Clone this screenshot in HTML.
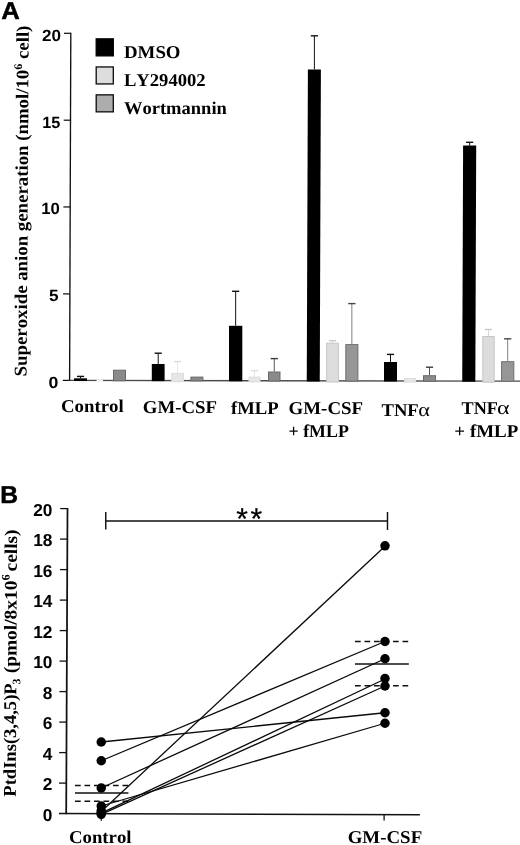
<!DOCTYPE html>
<html lang="en"><head><meta charset="utf-8"><title>Figure</title>
<style>
html,body{margin:0;padding:0;background:#fff;}
body{width:520px;height:845px;overflow:hidden;}
svg{display:block;}
text{font-kerning:none;text-rendering:geometricPrecision;}
.ser{font-family:"Liberation Serif","Times New Roman",serif;font-weight:bold;fill:#000;}
.san{font-family:"Liberation Sans",Arial,sans-serif;font-weight:bold;fill:#000;}
.sym{font-family:"Liberation Serif","Times New Roman",serif;font-weight:normal;fill:#000;}
</style></head><body>
<svg width="520" height="845" viewBox="0 0 520 845">
<rect width="520" height="845" fill="#fff"/>
<g id="panelA">
<text class="san" font-size="24.3" stroke="#000" stroke-width="0.5" stroke-linejoin="round" transform="translate(1.16,18.7) scale(1.0563,1)">A</text>
<line x1="70.8" y1="32.7" x2="69.6" y2="381" stroke="#111" stroke-width="1.35"/>
<line x1="64" y1="33.3" x2="70.8" y2="33.3" stroke="#111" stroke-width="1.25"/>
<line x1="63.7" y1="120.2" x2="70.5" y2="120.2" stroke="#111" stroke-width="1.25"/>
<line x1="63.4" y1="206.95" x2="70.2" y2="206.95" stroke="#111" stroke-width="1.25"/>
<line x1="63.1" y1="293.9" x2="69.9" y2="293.9" stroke="#111" stroke-width="1.25"/>
<line x1="62.8" y1="380.4" x2="69.6" y2="380.4" stroke="#111" stroke-width="1.25"/>
<text class="san" font-size="16.2" transform="translate(41.97,40.5) scale(1.0567,1)">20</text>
<text class="san" font-size="16.2" transform="translate(42.19,128.1) scale(1.0061,1)">15</text>
<text class="san" font-size="16.2" transform="translate(41.17,213.7) scale(1.0338,1)">10</text>
<text class="san" font-size="16.2" transform="translate(49.07,300.8) scale(1.0625,1)">5</text>
<text class="san" font-size="16.2" transform="translate(48.38,388.1) scale(1.0933,1)">0</text>
<text class="ser" font-size="18" transform="translate(26.6,376.44) rotate(-89.65) scale(1.0449,1)"><tspan word-spacing="0">Superoxide anion generation (nmol/10<tspan font-size="11.5" dy="-6.5">6</tspan><tspan dy="6.5"> cell)</tspan></tspan></text>
<rect x="96.2" y="38.85" width="17.1" height="17" fill="#000" stroke="#000" stroke-width="1.3"/>
<text class="ser" font-size="18" transform="translate(123.94,58) scale(1.0483,1)">DMSO</text>
<rect x="96.2" y="66.95" width="17.1" height="17" fill="#dddddd" stroke="#0a0a0a" stroke-width="1.3"/>
<text class="ser" font-size="18" transform="translate(123.94,85.9) scale(1.0346,1)">LY294002</text>
<rect x="96.2" y="94.85" width="17.1" height="17" fill="#adadad" stroke="#0a0a0a" stroke-width="1.3"/>
<text class="ser" font-size="18" transform="translate(123.94,113.8) scale(1.0291,1)">Wortmannin</text>
<line x1="69.6" y1="380.4" x2="520" y2="381.09999999999997" stroke="#4a4a4a" stroke-width="1.4"/>
<line x1="80.5" y1="376.4" x2="80.5" y2="378.3" stroke="#111" stroke-width="1"/>
<line x1="76.9" y1="376.4" x2="84.1" y2="376.4" stroke="#111" stroke-width="1.4"/>
<rect x="74" y="378.3" width="13" height="2.72" fill="#000"/>
<rect x="96.5" y="379.6" width="6.5" height="2.05" fill="#f4f4f4"/>
<rect x="113.5" y="370.2" width="12" height="10.58" fill="#8a8a8a" stroke="#6a6a6a" stroke-width="1"/>
<line x1="158.2" y1="353.2" x2="158.2" y2="364" stroke="#111" stroke-width="1"/>
<line x1="154.6" y1="353.2" x2="161.8" y2="353.2" stroke="#111" stroke-width="1.4"/>
<rect x="151.8" y="364" width="12.8" height="17.14" fill="#000"/>
<line x1="177.55" y1="361.6" x2="177.55" y2="372.9" stroke="#e4e4e4" stroke-width="1"/>
<line x1="173.95" y1="361.6" x2="181.15" y2="361.6" stroke="#dcdcdc" stroke-width="1.4"/>
<rect x="171.7" y="373.4" width="11.7" height="8.37" fill="#e6e6e6" stroke="#dcdcdc" stroke-width="1"/>
<rect x="190.9" y="377.1" width="12" height="3.8" fill="#8a8a8a" stroke="#6a6a6a" stroke-width="1"/>
<line x1="235.65" y1="291.3" x2="235.65" y2="325.8" stroke="#111" stroke-width="1"/>
<line x1="232.05" y1="291.3" x2="239.25" y2="291.3" stroke="#111" stroke-width="1.4"/>
<rect x="229" y="325.8" width="13.3" height="55.47" fill="#000"/>
<line x1="254.5" y1="370.7" x2="254.5" y2="376.6" stroke="#e4e4e4" stroke-width="1"/>
<line x1="250.9" y1="370.7" x2="258.1" y2="370.7" stroke="#dcdcdc" stroke-width="1.4"/>
<rect x="249" y="377.1" width="11" height="4.8" fill="#e6e6e6" stroke="#dcdcdc" stroke-width="1"/>
<line x1="274.25" y1="358.6" x2="274.25" y2="371.5" stroke="#555" stroke-width="1"/>
<line x1="270.65" y1="358.6" x2="277.85" y2="358.6" stroke="#3a3a3a" stroke-width="1.4"/>
<rect x="268.5" y="372" width="11.5" height="9.03" fill="#8a8a8a" stroke="#6a6a6a" stroke-width="1"/>
<line x1="314.4" y1="35.8" x2="314.4" y2="69.4" stroke="#111" stroke-width="1"/>
<line x1="310.8" y1="35.8" x2="318" y2="35.8" stroke="#111" stroke-width="1.4"/>
<polygon points="307.9,69.4 320.9,69.4 319.75,381.39 306.75,381.39" fill="#000"/>
<line x1="332.55" y1="340.7" x2="332.55" y2="342.7" stroke="#d6d6d6" stroke-width="1"/>
<line x1="328.95" y1="340.7" x2="336.15" y2="340.7" stroke="#c8c8c8" stroke-width="1.4"/>
<rect x="326.7" y="343.2" width="11.7" height="38.82" fill="#dcdcdc" stroke="#c6c6c6" stroke-width="1"/>
<line x1="351.85" y1="303.6" x2="351.85" y2="344.1" stroke="#808080" stroke-width="1"/>
<line x1="348.25" y1="303.6" x2="355.45" y2="303.6" stroke="#444" stroke-width="1.4"/>
<rect x="345.8" y="344.6" width="12.1" height="36.55" fill="#969696" stroke="#6e6e6e" stroke-width="1"/>
<line x1="390.5" y1="354.4" x2="390.5" y2="362" stroke="#111" stroke-width="1"/>
<line x1="386.9" y1="354.4" x2="394.1" y2="354.4" stroke="#111" stroke-width="1.4"/>
<rect x="384" y="362" width="13" height="19.51" fill="#000"/>
<rect x="404.5" y="378.5" width="11" height="3.64" fill="#e6e6e6" stroke="#dcdcdc" stroke-width="1"/>
<line x1="429.5" y1="367.2" x2="429.5" y2="375.2" stroke="#555" stroke-width="1"/>
<line x1="425.9" y1="367.2" x2="433.1" y2="367.2" stroke="#3a3a3a" stroke-width="1.4"/>
<rect x="423.5" y="375.7" width="12" height="5.58" fill="#8a8a8a" stroke="#6a6a6a" stroke-width="1"/>
<line x1="469.65" y1="142.3" x2="469.65" y2="145.6" stroke="#111" stroke-width="1"/>
<line x1="466.05" y1="142.3" x2="473.25" y2="142.3" stroke="#111" stroke-width="1.4"/>
<polygon points="463.1,145.6 476.2,145.6 475.33,381.64 462.23,381.64" fill="#000"/>
<line x1="488.5" y1="329.5" x2="488.5" y2="336" stroke="#d6d6d6" stroke-width="1"/>
<line x1="484.9" y1="329.5" x2="492.1" y2="329.5" stroke="#c8c8c8" stroke-width="1.4"/>
<rect x="482.8" y="336.5" width="11.4" height="45.77" fill="#dcdcdc" stroke="#c6c6c6" stroke-width="1"/>
<line x1="507.7" y1="338.8" x2="507.7" y2="361.2" stroke="#808080" stroke-width="1"/>
<line x1="504.1" y1="338.8" x2="511.3" y2="338.8" stroke="#444" stroke-width="1.4"/>
<rect x="501.6" y="361.7" width="12.2" height="19.7" fill="#969696" stroke="#6e6e6e" stroke-width="1"/>
<text class="ser" font-size="18" transform="translate(60.95,411.5) scale(1.0468,1)">Control</text>
<text class="ser" font-size="18" transform="translate(142.75,412.7) scale(1.0455,1)">GM-CSF</text>
<text class="ser" font-size="18" transform="translate(231.04,413.9) scale(1.0365,1)">fMLP</text>
<text class="ser" font-size="18" transform="translate(288.55,413.6) scale(1.0498,1)">GM-CSF</text>
<text class="ser" font-size="18" transform="translate(288.51,436.7) scale(0.9924,1)">+ fMLP</text>
<text class="ser" font-size="18" transform="translate(381.44,416.4) scale(1.0371,1)">TNF</text>
<text class="ser" font-size="18" transform="translate(461.55,414.3) scale(1.0086,1)">TNF</text>
<text class="ser" font-size="18" transform="translate(454.35,436.7) scale(1.0532,1)">+ fMLP</text>
<text class="sym" font-size="19" transform="translate(418.33,416.4) scale(1.1657,1)">α</text>
<text class="sym" font-size="19" transform="translate(496.96,414.3) scale(1.2571,1)">α</text>
</g>
<g id="panelB">
<text class="san" font-size="24.4" stroke="#000" stroke-width="0.5" stroke-linejoin="round" transform="translate(0.33,502.55) scale(1.0102,1)">B</text>
<line x1="67.5" y1="507.9" x2="66.2" y2="814.3" stroke="#111" stroke-width="1.75"/>
<line x1="59" y1="813.6" x2="419.9" y2="814.8" stroke="#111" stroke-width="1.5"/>
<line x1="59.03" y1="783.1" x2="66.33" y2="783.1" stroke="#111" stroke-width="1.3"/>
<line x1="59.16" y1="752.6" x2="66.46" y2="752.6" stroke="#111" stroke-width="1.3"/>
<line x1="59.29" y1="722.1" x2="66.59" y2="722.1" stroke="#111" stroke-width="1.3"/>
<line x1="59.42" y1="691.6" x2="66.72" y2="691.6" stroke="#111" stroke-width="1.3"/>
<line x1="59.55" y1="661.1" x2="66.85" y2="661.1" stroke="#111" stroke-width="1.3"/>
<line x1="59.68" y1="630.6" x2="66.98" y2="630.6" stroke="#111" stroke-width="1.3"/>
<line x1="59.81" y1="600.1" x2="67.11" y2="600.1" stroke="#111" stroke-width="1.3"/>
<line x1="59.94" y1="569.6" x2="67.24" y2="569.6" stroke="#111" stroke-width="1.3"/>
<line x1="60.07" y1="539.1" x2="67.37" y2="539.1" stroke="#111" stroke-width="1.3"/>
<line x1="60.2" y1="508.6" x2="67.5" y2="508.6" stroke="#111" stroke-width="1.3"/>
<text class="san" x="52.4" y="820.9" font-size="17.3" text-anchor="end">0</text>
<text class="san" x="52.4" y="790.4" font-size="17.3" text-anchor="end">2</text>
<text class="san" x="52.4" y="759.9" font-size="17.3" text-anchor="end">4</text>
<text class="san" x="52.4" y="729.4" font-size="17.3" text-anchor="end">6</text>
<text class="san" x="52.4" y="698.9" font-size="17.3" text-anchor="end">8</text>
<text class="san" x="52.4" y="668.4" font-size="17.3" text-anchor="end">10</text>
<text class="san" x="52.4" y="637.9" font-size="17.3" text-anchor="end">12</text>
<text class="san" x="52.4" y="607.4" font-size="17.3" text-anchor="end">14</text>
<text class="san" x="52.4" y="576.9" font-size="17.3" text-anchor="end">16</text>
<text class="san" x="52.4" y="546.4" font-size="17.3" text-anchor="end">18</text>
<text class="san" x="52.4" y="515.9" font-size="17.3" text-anchor="end">20</text>
<line x1="101.25" y1="813.6" x2="101.25" y2="820.8" stroke="#111" stroke-width="1.3"/>
<line x1="384.1" y1="814.6" x2="384.1" y2="820.6" stroke="#111" stroke-width="1.3"/>
<text class="ser" font-size="18" transform="translate(15.65,796.66) rotate(-89.71) scale(1.0298,1)">PtdIns(3,4,5)P<tspan font-size="11.5" dy="4" dx="-1">3</tspan></text>
<text class="ser" font-size="18" transform="translate(16.3,673.31) rotate(-89.71) scale(1.0780,1)"><tspan word-spacing="-1.8">(pmol/8x10<tspan font-size="11.5" dy="-7.3">6</tspan><tspan dy="7.3"> cells)</tspan></tspan></text>
<path d="M105.75 512V529.5M105.75 520.9H387.5M387.5 512V530" fill="none" stroke="#111" stroke-width="1.45"/>
<text font-family="Liberation Sans,Arial,sans-serif" font-size="30" fill="#000" stroke="#000" stroke-width="0.25" y="529.4"><tspan x="236.3">*</tspan><tspan x="250.6">*</tspan></text>
<line x1="75" y1="793" x2="128.4" y2="793" stroke="#111" stroke-width="1.3"/>
<line x1="75" y1="785.5" x2="129" y2="785.5" stroke="#111" stroke-width="1.3" stroke-dasharray="5.7 3.8"/>
<line x1="75" y1="801.25" x2="129" y2="801.25" stroke="#111" stroke-width="1.3" stroke-dasharray="5.7 3.8"/>
<line x1="355" y1="664" x2="408.8" y2="664" stroke="#111" stroke-width="1.3"/>
<line x1="355" y1="641.5" x2="409.5" y2="641.5" stroke="#111" stroke-width="1.3" stroke-dasharray="5.7 3.8"/>
<line x1="355" y1="685.75" x2="409.5" y2="685.75" stroke="#111" stroke-width="1.3" stroke-dasharray="5.7 3.8"/>
<line x1="101.25" y1="742" x2="385.0" y2="712.75" stroke="#0a0a0a" stroke-width="1.3"/>
<line x1="101.25" y1="760.75" x2="385.0" y2="641.5" stroke="#0a0a0a" stroke-width="1.3"/>
<line x1="101.25" y1="788" x2="385.0" y2="658.75" stroke="#0a0a0a" stroke-width="1.3"/>
<line x1="101.25" y1="806" x2="385.0" y2="723.25" stroke="#0a0a0a" stroke-width="1.3"/>
<line x1="101.25" y1="814.3" x2="385.0" y2="686" stroke="#0a0a0a" stroke-width="1.3"/>
<line x1="101.25" y1="813.2" x2="385.0" y2="679" stroke="#0a0a0a" stroke-width="1.3"/>
<line x1="101.25" y1="811.5" x2="385.0" y2="546.3" stroke="#0a0a0a" stroke-width="1.3"/>
<circle cx="101.25" cy="742" r="4.75" fill="#000"/>
<circle cx="101.25" cy="760.75" r="4.75" fill="#000"/>
<circle cx="101.25" cy="788" r="4.75" fill="#000"/>
<circle cx="101.25" cy="806" r="4.75" fill="#000"/>
<circle cx="101.25" cy="810.8" r="4.75" fill="#000"/>
<circle cx="101.25" cy="812.5" r="4.75" fill="#000"/>
<circle cx="101.25" cy="814.3" r="4.75" fill="#000"/>
<circle cx="385.0" cy="712.75" r="4.75" fill="#000"/>
<circle cx="385.0" cy="641.5" r="4.75" fill="#000"/>
<circle cx="385.0" cy="658.75" r="4.75" fill="#000"/>
<circle cx="385.0" cy="723.25" r="4.75" fill="#000"/>
<circle cx="385.0" cy="686" r="4.75" fill="#000"/>
<circle cx="385.0" cy="678.5" r="4.75" fill="#000"/>
<circle cx="385.0" cy="545.8" r="4.75" fill="#000"/>
<text class="ser" font-size="18" transform="translate(68.96,843.4) scale(1.0434,1)">Control</text>
<text class="ser" font-size="18" transform="translate(347.65,842.9) scale(1.0498,1)">GM-CSF</text>
</g>
</svg></body></html>
